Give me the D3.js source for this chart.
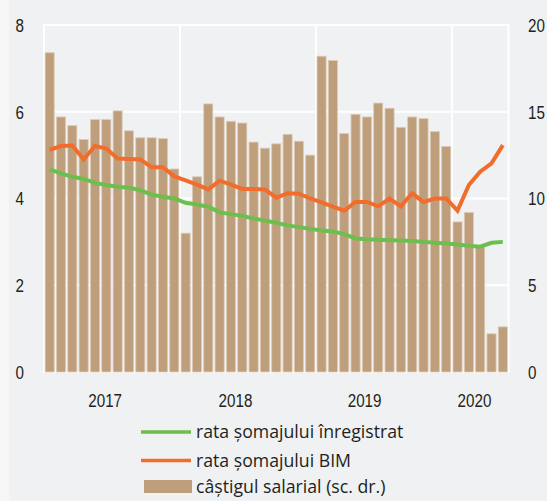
<!DOCTYPE html>
<html>
<head>
<meta charset="utf-8">
<script src="https://cdn.jsdelivr.net/npm/d3@7"></script>
<style>
  html, body { margin: 0; padding: 0; background: #f7f7f8; }
  svg { display: block; }
</style>
</head>
<body>
<script>
// monthly, Jan 2017 - May 2020
const months = [
  "2017-01","2017-02","2017-03","2017-04","2017-05","2017-06","2017-07","2017-08","2017-09","2017-10","2017-11","2017-12",
  "2018-01","2018-02","2018-03","2018-04","2018-05","2018-06","2018-07","2018-08","2018-09","2018-10","2018-11","2018-12",
  "2019-01","2019-02","2019-03","2019-04","2019-05","2019-06","2019-07","2019-08","2019-09","2019-10","2019-11","2019-12",
  "2020-01","2020-02","2020-03","2020-04","2020-05"
];

// câștigul salarial (right scale)
const wages = [18.4, 14.7, 14.2, 13.4, 14.55, 14.55, 15.05, 13.9, 13.5, 13.5, 13.45, 11.7,
               8.0, 11.25, 15.45, 14.7, 14.45, 14.35, 13.25, 12.9, 13.15, 13.7, 13.3, 12.5,
               18.2, 17.95, 13.75, 14.85, 14.7, 15.5, 15.2, 14.1, 14.7, 14.6, 13.85, 13.0,
               8.65, 9.2, 7.2, 2.2, 2.6];

// rata somajului BIM (left scale)
const bim = [5.12, 5.21, 5.22, 4.9, 5.21, 5.15, 4.92, 4.91, 4.9, 4.72, 4.72, 4.51,
             4.42, 4.32, 4.21, 4.41, 4.32, 4.22, 4.22, 4.21, 4.02, 4.12, 4.11, 4.0,
             3.91, 3.81, 3.72, 3.92, 3.92, 3.82, 4.0, 3.82, 4.12, 3.92, 4.0, 4.0,
             3.72, 4.31, 4.62, 4.81, 5.23];

// rata somajului inregistrat (left scale)
const registered = [4.67, 4.58, 4.5, 4.45, 4.36, 4.31, 4.27, 4.25, 4.19, 4.09, 4.04, 4.0,
                    3.9, 3.86, 3.81, 3.68, 3.64, 3.6, 3.54, 3.49, 3.44, 3.38, 3.34, 3.3,
                    3.26, 3.24, 3.18, 3.08, 3.06, 3.05, 3.04, 3.03, 3.02, 3.0, 2.98, 2.96,
                    2.94, 2.91, 2.89, 2.98, 3.0];

const leftTicks = [0, 2, 4, 6, 8];
const rightTicks = [0, 5, 10, 15, 20];
const years = ["2017", "2018", "2019", "2020"];
const yearLabelAt = [4.9, 16.4, 27.8, 37.5];   // month index under each year label
const yearBreaks = ["2018-01", "2019-01", "2020-01"];

const legendItems = [
  {label: "rata șomajului înregistrat", type: "line", color: "#6cbf4c"},
  {label: "rata șomajului BIM", type: "line", color: "#f26c2c"},
  {label: "câștigul salarial (sc. dr.)", type: "rect", color: "#bf9e7b"}
];

const W = 547, H = 501;
const m = {left: 44, right: 508.5, top: 25, bottom: 372};
const axisFont = "'Liberation Sans', Arial, sans-serif";
const squeeze = 0.8;   // narrow the axis digits like a condensed face

const svg = d3.select("body").append("svg")
  .attr("width", W).attr("height", H);

svg.append("rect")
  .attr("x", 9).attr("y", 0)
  .attr("width", W - 9).attr("height", H)
  .attr("fill", "#f0f1f3");

const x = d3.scaleBand()
  .domain(months)
  .range([m.left, m.right])
  .paddingInner(0.2)
  .paddingOuter(0.1);

const xi = d3.scaleLinear()
  .domain([0, months.length - 1])
  .range([x(months[0]) + x.bandwidth() / 2, x(months[months.length - 1]) + x.bandwidth() / 2]);

const yL = d3.scaleLinear().domain([0, 8]).range([m.bottom, m.top]);
const yR = d3.scaleLinear().domain([0, 20]).range([m.bottom, m.top]);

// grid
const grid = svg.append("g").attr("stroke", "#ffffff").attr("stroke-width", 2);
grid.selectAll(".hg")
  .data(leftTicks)
  .enter().append("line")
  .attr("x1", m.left).attr("x2", m.right)
  .attr("y1", d => yL(d)).attr("y2", d => yL(d));
grid.selectAll(".vg")
  .data(yearBreaks)
  .enter().append("line")
  .attr("x1", d => x(d) - x.step() * x.paddingInner() / 2)
  .attr("x2", d => x(d) - x.step() * x.paddingInner() / 2)
  .attr("y1", m.top).attr("y2", m.bottom);
grid.append("rect")
  .attr("x", m.left).attr("y", m.top)
  .attr("width", m.right - m.left).attr("height", m.bottom - m.top)
  .attr("fill", "none");

// bars
svg.append("g").selectAll("rect")
  .data(wages)
  .enter().append("rect")
  .attr("x", (d, i) => x(months[i]))
  .attr("y", d => yR(d))
  .attr("width", x.bandwidth())
  .attr("height", d => yR(0) - yR(d))
  .attr("fill", "#bf9e7b")
  .attr("stroke", "#dccbb6")
  .attr("stroke-width", 0.8);

// lines
const line = d3.line()
  .x((d, i) => xi(i))
  .y(d => yL(d));

svg.append("path")
  .datum(registered)
  .attr("d", line)
  .attr("fill", "none")
  .attr("stroke", "#6cbf4c")
  .attr("stroke-width", 4);

svg.append("path")
  .datum(bim)
  .attr("d", line)
  .attr("fill", "none")
  .attr("stroke", "#f26c2c")
  .attr("stroke-width", 4);

// axes labels
const txt = svg.append("g")
  .style("font-family", axisFont)
  .style("font-size", "19px")
  .attr("fill", "#231f20");

txt.selectAll(".yl")
  .data(leftTicks)
  .enter().append("text")
  .attr("transform", d => "translate(24," + yL(d) + ") scale(" + squeeze + ",1)")
  .attr("dy", "0.36em")
  .attr("text-anchor", "end")
  .text(d => d);

txt.selectAll(".yr")
  .data(rightTicks)
  .enter().append("text")
  .attr("transform", d => "translate(528," + yR(d) + ") scale(" + squeeze + ",1)")
  .attr("dy", "0.36em")
  .attr("text-anchor", "start")
  .text(d => d);

txt.selectAll(".xl")
  .data(years)
  .enter().append("text")
  .attr("transform", (d, i) => "translate(" + xi(yearLabelAt[i]) + ",406.5) scale(" + squeeze + ",1)")
  .attr("text-anchor", "middle")
  .text(d => d);

// legend
const lg = svg.append("g")
  .attr("transform", "translate(141,432)");

const item = lg.selectAll("g")
  .data(legendItems)
  .enter().append("g")
  .attr("transform", (d, i) => "translate(0," + [0, 28.5, 54.5][i] + ")");

item.filter(d => d.type === "line").append("line")
  .attr("x1", 0).attr("x2", 50)
  .attr("stroke", d => d.color)
  .attr("stroke-width", 3.5);

item.filter(d => d.type === "rect").append("rect")
  .attr("x", 3).attr("y", -6.5)
  .attr("width", 48).attr("height", 13)
  .attr("fill", d => d.color);

item.append("text")
  .attr("x", 55).attr("dy", "0.35em")
  .style("font-family", "'Open Sans', sans-serif")
  .style("font-size", "17.7px")
  .attr("fill", "#231f20")
  .text(d => d.label);
</script>
</body>
</html>
